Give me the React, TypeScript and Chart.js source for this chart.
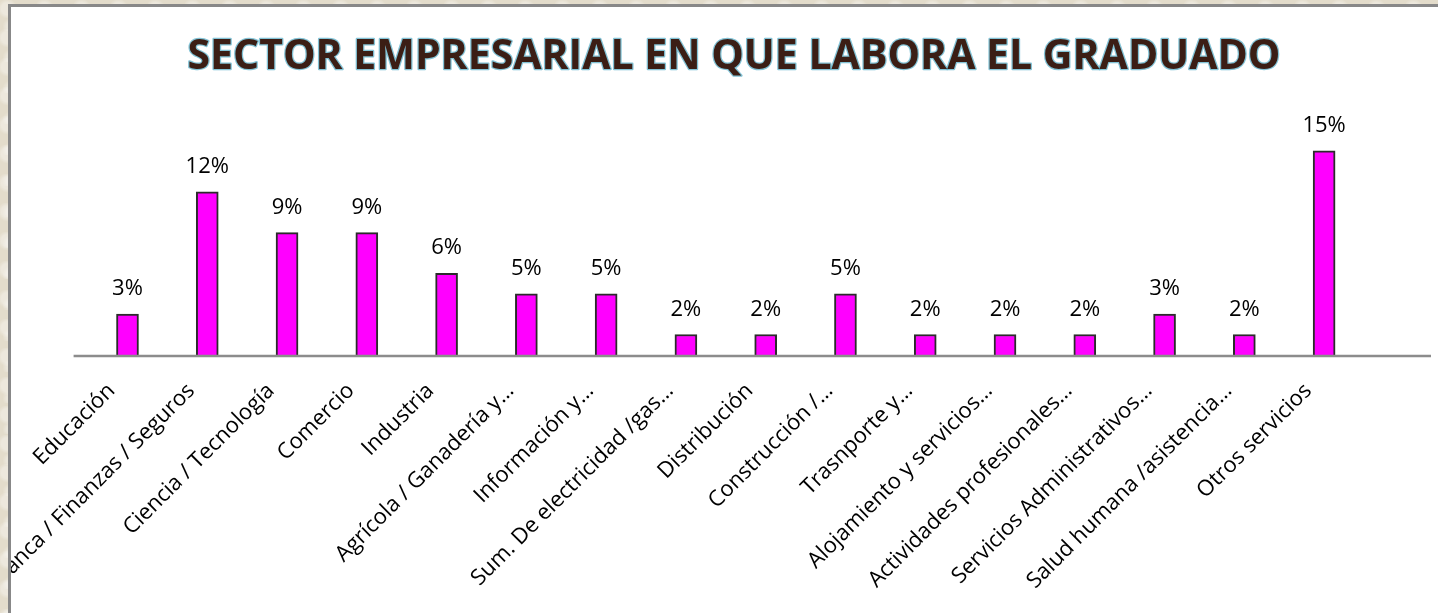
import React, { useEffect, useRef } from 'react';
import { Chart, registerables } from 'chart.js';

Chart.register(...registerables);

const titleText = 'SECTOR EMPRESARIAL EN QUE LABORA EL GRADUADO';

const categories = [
  'Educación',
  'Banca / Finanzas / Seguros',
  'Ciencia / Tecnología',
  'Comercio',
  'Industria',
  'Agrícola / Ganadería y…',
  'Información y…',
  'Sum. De electricidad /gas…',
  'Distribución',
  'Construcción /…',
  'Trasnporte y…',
  'Alojamiento y servicios…',
  'Actividades profesionales…',
  'Servicios Administrativos…',
  'Salud humana /asistencia…',
  'Otros servicios',
];

const percentages = [3.03, 12.12, 9.09, 9.09, 6.06, 4.55, 4.55, 1.52, 1.52, 4.55, 1.52, 1.52, 1.52, 3.03, 1.52, 15.15];

const TITLE_SIZE = 41;

const titleStrokePlugin = {
  id: 'titleStroke',
  beforeDraw(chart: any) {
    const tb = chart.titleBlock;
    if (!tb) return;
    const ctx = chart.ctx;
    const lh = TITLE_SIZE * 1.2;
    ctx.save();
    ctx.font = `bold ${TITLE_SIZE}px "Open Sans"`;
    ctx.textAlign = 'center';
    ctx.textBaseline = 'middle';
    ctx.lineJoin = 'round';
    ctx.lineWidth = 2.5;
    ctx.strokeStyle = 'rgba(90,175,200,0.75)';
    ctx.strokeText(titleText, (tb.left + tb.right) / 2, tb.top + tb._padding.top + lh / 2);
    ctx.restore();
  },
};

const baselinePlugin = {
  id: 'baseline',
  afterDatasetsDraw(chart: any) {
    const ctx = chart.ctx;
    const ca = chart.chartArea;
    const y = chart.scales.y.getPixelForValue(0);
    ctx.save();
    ctx.strokeStyle = '#8c8c8c';
    ctx.lineWidth = 2.5;
    ctx.beginPath();
    ctx.moveTo(ca.left - 14, y + 1);
    ctx.lineTo(ca.right + 67, y + 1);
    ctx.stroke();
    ctx.restore();
  },
};

const valueLabelPlugin = {
  id: 'valueLabels',
  afterDatasetsDraw(chart: any) {
    const ctx = chart.ctx;
    const meta = chart.getDatasetMeta(0);
    ctx.save();
    ctx.font = '22px "Open Sans"';
    ctx.fillStyle = '#000000';
    ctx.textAlign = 'center';
    ctx.textBaseline = 'alphabetic';
    meta.data.forEach((el: any, i: number) => {
      ctx.fillText(Math.round(percentages[i]) + '%', el.x, el.y - 19);
    });
    ctx.restore();
  },
};

export default function App() {
  const canvasRef = useRef<HTMLCanvasElement | null>(null);

  useEffect(() => {
    if (!canvasRef.current) return;
    const chart = new Chart(canvasRef.current, {
      type: 'bar',
      data: {
        labels: categories,
        datasets: [
          {
            data: percentages,
            backgroundColor: '#FF00FF',
            borderColor: '#2b2b2b',
            borderWidth: 2,
            barThickness: 22,
          },
        ],
      },
      options: {
        responsive: false,
        animation: false,
        layout: { padding: { top: 26, left: 0, right: 0, bottom: 0 } },
        plugins: {
          legend: { display: false },
          tooltip: { enabled: false },
          title: {
            display: true,
            text: titleText,
            color: '#3B1E15',
            font: { family: 'Open Sans', size: TITLE_SIZE, weight: 'bold', lineHeight: 1.2 },
            padding: { top: 0, bottom: 3.4 },
          },
        },
        scales: {
          x: {
            grid: { display: false, drawTicks: false },
            border: { display: false },
            ticks: {
              autoSkip: false,
              minRotation: 45,
              maxRotation: 45,
              padding: 23,
              labelOffset: -16,
              color: '#000000',
              font: { family: 'Open Sans', size: 22 },
            },
            afterFit: (s: any) => {
              s.paddingLeft = 76.6;
              s.paddingRight = 93;
              s.height = 272;
            },
          },
          y: { display: false, min: 0, max: 20 },
        },
      },
      plugins: [titleStrokePlugin, baselinePlugin, valueLabelPlugin],
    });
    return () => chart.destroy();
  }, []);

  return (
    <div
      style={{
        position: 'fixed',
        inset: 0,
        overflow: 'hidden',
        backgroundColor: '#E3DCCB',
        backgroundImage:
          'radial-gradient(circle at 20% 30%, rgba(255,255,255,0.35) 0 6px, transparent 10px), radial-gradient(circle at 70% 60%, rgba(180,170,150,0.25) 0 5px, transparent 9px), radial-gradient(circle at 45% 85%, rgba(255,255,255,0.3) 0 4px, transparent 8px)',
        backgroundSize: '37px 29px, 53px 41px, 23px 31px',
      }}
    >
      <div
        style={{
          position: 'absolute',
          left: 8,
          top: 4,
          width: 1446,
          height: 620,
          border: '3px solid #888888',
          background: '#ffffff',
        }}
      >
        <canvas ref={canvasRef} width={1446} height={620} style={{ display: 'block' }} />
      </div>
    </div>
  );
}
